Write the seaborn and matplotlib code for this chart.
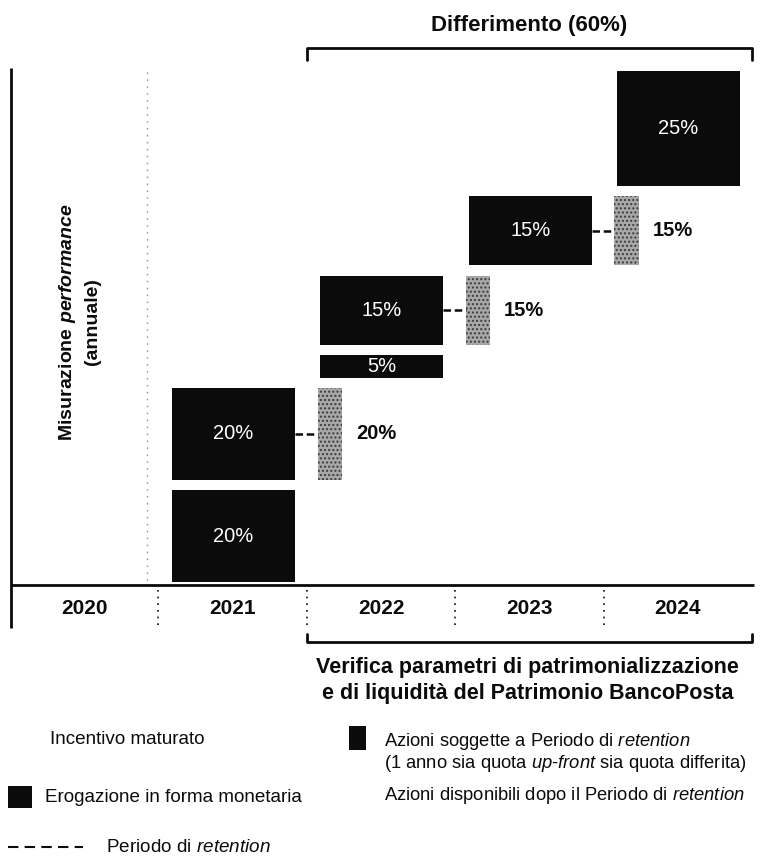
import numpy as np
import pandas as pd
import matplotlib
matplotlib.use("Agg")
import matplotlib.pyplot as plt
import matplotlib.transforms as mtransforms
from matplotlib.patches import Rectangle
import seaborn as sns

# ---------------- data ----------------
years = ["2020", "2021", "2022", "2023", "2024"]
segment_years = ["2021", "2021", "2022", "2022", "2023", "2024"]
segment_values = [20, 20, 5, 15, 15, 25]
segment_kinds = ["cash", "shares", "cash", "shares", "shares", "cash"]
deferral_years = ["2022", "2023", "2024"]

title_top = "Differimento"
bottom_lines = ["Verifica parametri di patrimonializzazione",
                "e di liquidità del Patrimonio BancoPosta"]
ylabel_lines = [r"Misurazione $\mathbfit{performance}$", "(annuale)"]
legend_left = ["Incentivo maturato", "Erogazione in forma monetaria",
               r"Periodo di $\mathit{retention}$"]
legend_right = [r"Azioni soggette a Periodo di $\mathit{retention}$",
                r"(1 anno sia quota $\mathit{up}$-$\mathit{front}$ sia quota differita)",
                r"Azioni disponibili dopo il Periodo di $\mathit{retention}$"]

# ---------------- style ----------------
sns.set_theme(style="white")
plt.rcParams["font.family"] = ["Liberation Sans", "DejaVu Sans"]
plt.rcParams["mathtext.fontset"] = "custom"
plt.rcParams["mathtext.rm"] = "Liberation Sans"
plt.rcParams["mathtext.it"] = "Liberation Sans:italic"
plt.rcParams["mathtext.bf"] = "Liberation Sans:bold"
if "mathtext.bfit" in plt.rcParams:
    plt.rcParams["mathtext.bfit"] = "Liberation Sans:bold:italic"

BLACK = "#0b0b0b"
SHADE = "#a8a8a8"
W, H = 760, 857

fig = plt.figure(figsize=(W / 100, H / 100), dpi=100)
fig.patch.set_facecolor("white")

# overlay axes in pixel coordinates (y downward)
ov = fig.add_axes([0, 0, 1, 1])
ov.set_xlim(0, W)
ov.set_ylim(H, 0)
ov.axis("off")
ov.patch.set_alpha(0)

# main axes for the bars
ax_left, ax_right, ax_base, ax_top = 10, 752, 585, 60
ax = fig.add_axes([ax_left / W, (H - ax_base) / H,
                   (ax_right - ax_left) / W, (ax_base - ax_top) / H])
ax.patch.set_alpha(0)

BASE = 0.6    # small offset of first bar above the baseline
GAP = 2.2     # vertical gap between successive bars
BAR_OFF, BAR_W = 0.505, 0.83
RET_OFF, RET_W = 0.155, 0.165

col_of = {y: i for i, y in enumerate(years)}
df = pd.DataFrame({"year": segment_years, "value": segment_values, "kind": segment_kinds})
df["col"] = df["year"].map(col_of)
df["bottom"] = BASE + df["value"].cumsum().shift(fill_value=0) + np.arange(len(df)) * GAP
df["x"] = df["col"] + BAR_OFF

for _, r in df.iterrows():
    sns.barplot(x=[r["x"]], y=[r["value"]], bottom=r["bottom"], native_scale=True,
                orient="x", width=BAR_W, color=BLACK, saturation=1, errorbar=None,
                linewidth=0, ax=ax)
    mid = r["bottom"] + r["value"] / 2
    ax.text(r["x"], mid, f"{r['value']}%", color="white", ha="center", va="center",
            fontsize=14.5)
    if r["kind"] == "shares" and r["col"] + 1 < len(years):
        nc = r["col"] + 1
        sns.barplot(x=[nc + RET_OFF], y=[r["value"]], bottom=r["bottom"], native_scale=True,
                    orient="x", width=RET_W, color=SHADE, saturation=1, errorbar=None,
                    linewidth=0, edgecolor="#3c3c3c", hatch="....", ax=ax)
        ax.plot([r["col"] + BAR_OFF + BAR_W / 2, nc + RET_OFF - RET_W / 2], [mid, mid],
                color=BLACK, lw=1.8, linestyle=(0, (3, 1.5)), clip_on=False)
        ax.text(nc + 0.33, mid, f"{r['value']}%", color=BLACK, ha="left", va="center",
                fontsize=14.5, fontweight="bold")

ax.set_xlim(0, len(years))
ymax = (ax_base - ax_top) / 4.605
ax.set_ylim(0, ymax)
ax.axis("off")

# blended transform: x in data columns, y in figure pixels
bt = mtransforms.blended_transform_factory(ax.transData, ov.transData)

# axis lines
ov.plot([11, 11], [68, 628], color=BLACK, lw=2, solid_capstyle="butt")
ov.plot([11, 754], [585, 585], color=BLACK, lw=2, solid_capstyle="butt")

# year separators and labels
for i, y in enumerate(years):
    ax.text(i + 0.5, 608, y, transform=bt, ha="center", va="center",
            fontsize=15, fontweight="bold", color=BLACK)
    if i > 0:
        ax.plot([i, i], [590, 628], transform=bt, color=BLACK, lw=1.2,
                linestyle=(0, (1, 3)), clip_on=False)

# faint dotted guide in the first column
ov.plot([147, 147], [72, 583], color="#8a8a8a", lw=1, linestyle=(0, (1, 4)))

# deferral brackets
d0 = col_of[deferral_years[0]]
d1 = col_of[deferral_years[-1]] + 1
deferred_total = int(df.loc[df["col"] >= d0, "value"].sum())
ax.plot([d0, d0, d1, d1], [60, 48, 48, 60], transform=bt, color=BLACK, lw=2,
        clip_on=False)
ax.text((d0 + d1) / 2, 25, f"{title_top} ({deferred_total}%)", transform=bt,
        ha="center", va="center", fontsize=16, fontweight="bold", color=BLACK)
ax.plot([d0, d0, d1, d1], [634, 642, 642, 634], transform=bt, color=BLACK, lw=2,
        clip_on=False)
for k, line in enumerate(bottom_lines):
    ax.text((d0 + d1) / 2 - 0.01, 667 + 26 * k, line, transform=bt, ha="center",
            va="center", fontsize=15.5, fontweight="bold", color=BLACK)

# rotated vertical label
ov.text(68, 322, ylabel_lines[0], rotation=90, ha="center", va="center",
        fontsize=14, fontweight="bold", color=BLACK)
ov.text(92, 322, ylabel_lines[1], rotation=90, ha="center", va="center",
        fontsize=14, fontweight="bold", color=BLACK)

# legend (left column)
ov.text(50, 740, legend_left[0], ha="left", va="center", fontsize=13.6, color=BLACK)
ov.add_patch(Rectangle((8, 786), 24, 22, color=BLACK, lw=0))
ov.text(45, 797, legend_left[1], ha="left", va="center", fontsize=13.6, color=BLACK)
ov.plot([8, 83], [847, 847], color=BLACK, lw=1.5, linestyle=(0, (5, 3)))
ov.text(106, 847, legend_left[2], ha="left", va="center", fontsize=13.6, color=BLACK)

# legend (right column)
ov.add_patch(Rectangle((349, 726), 17, 24, color=BLACK, lw=0))
ov.text(384, 742, legend_right[0], ha="left", va="center", fontsize=13.2, color=BLACK)
ov.text(384, 763, legend_right[1], ha="left", va="center", fontsize=13.2, color=BLACK)
ov.text(384, 795, legend_right[2], ha="left", va="center", fontsize=13.2, color=BLACK)

fig.savefig("out.png", dpi=100, facecolor="white")
